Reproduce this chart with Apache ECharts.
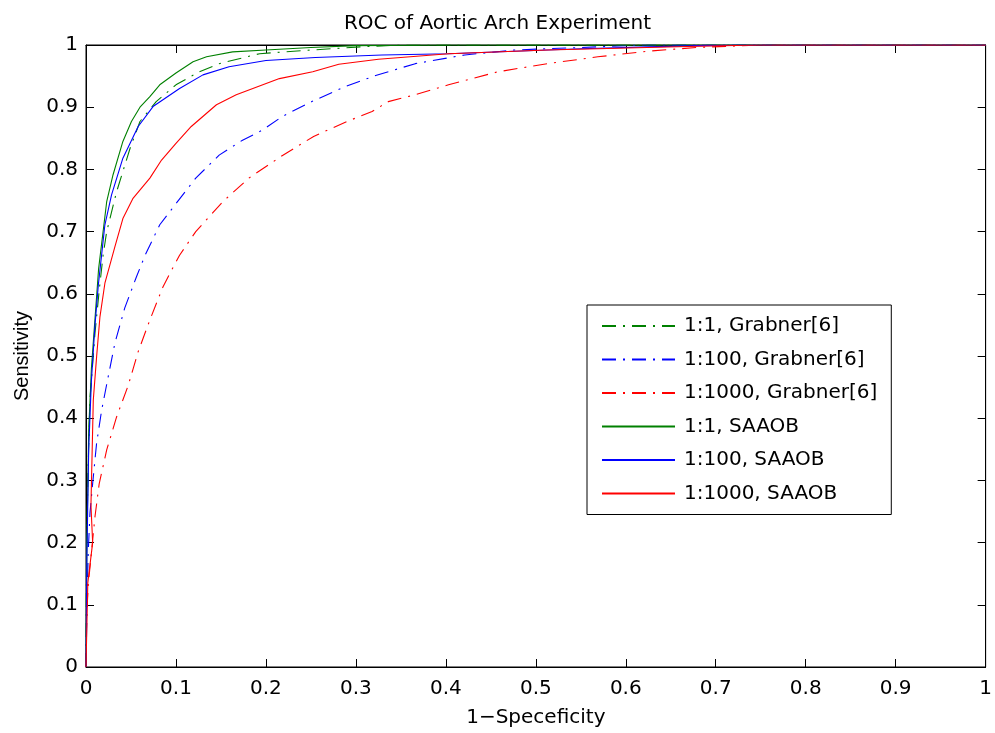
<!DOCTYPE html>
<html>
<head>
<meta charset="utf-8">
<script src="https://cdn.jsdelivr.net/npm/echarts@6/dist/echarts.min.js"></script>
<style>html,body{margin:0;padding:0;background:#fff}#c{width:995px;height:733px}</style>
</head>
<body>
<div id="c"></div>
<script>
var titleText = 'ROC of Aortic Arch Experiment';
var xAxisName = '1\u2212Speceficity';
var yAxisName = 'Sensitivity';
var seriesNames = ['1:1, Grabner[6]', '1:100, Grabner[6]', '1:1000, Grabner[6]', '1:1, SAAOB', '1:100, SAAOB', '1:1000, SAAOB'];

var grabner1 = [[0,0],[0.0005,0.15],[0.002,0.3],[0.0044,0.43],[0.010,0.537],[0.015,0.61],[0.019,0.662],[0.023,0.70],[0.034,0.764],[0.049,0.834],[0.060,0.877],[0.078,0.909],[0.1,0.936],[0.126,0.957],[0.148,0.970],[0.193,0.986],[0.251,0.992],[0.306,0.997],[0.35,1],[1,1]];
var grabner100 = [[0,0],[0.0015,0.132],[0.0026,0.188],[0.0044,0.247],[0.0074,0.295],[0.0118,0.36],[0.0174,0.413],[0.0247,0.467],[0.032,0.52],[0.043,0.577],[0.056,0.627],[0.066,0.663],[0.082,0.711],[0.1,0.745],[0.122,0.786],[0.148,0.823],[0.174,0.847],[0.196,0.863],[0.218,0.885],[0.251,0.909],[0.288,0.933],[0.322,0.951],[0.366,0.970],[0.421,0.984],[0.476,0.992],[0.55,0.996],[0.62,1],[1,1]];
var grabner1000 = [[0,0],[0.0007,0.08],[0.0026,0.134],[0.0063,0.188],[0.010,0.242],[0.0147,0.295],[0.023,0.349],[0.034,0.402],[0.047,0.453],[0.058,0.507],[0.071,0.558],[0.0855,0.611],[0.094,0.635],[0.104,0.662],[0.122,0.70],[0.152,0.748],[0.181,0.786],[0.218,0.822],[0.253,0.853],[0.29,0.877],[0.318,0.893],[0.336,0.909],[0.366,0.920],[0.403,0.936],[0.458,0.957],[0.513,0.970],[0.569,0.981],[0.624,0.990],[0.679,0.996],[0.75,1],[1,1]];
var saaob1 = [[0,0],[0.001,0.2],[0.003,0.38],[0.006,0.48],[0.010,0.56],[0.014,0.64],[0.019,0.70],[0.023,0.748],[0.030,0.791],[0.041,0.845],[0.0505,0.877],[0.06,0.9],[0.071,0.917],[0.082,0.936],[0.1,0.955],[0.119,0.973],[0.134,0.981],[0.163,0.989],[0.2,0.992],[0.25,0.996],[0.3,0.999],[0.4,1],[1,1]];
var saaob100 = [[0,0],[0.001,0.18],[0.003,0.35],[0.006,0.46],[0.010,0.55],[0.0137,0.614],[0.021,0.711],[0.0284,0.759],[0.041,0.818],[0.058,0.869],[0.0745,0.901],[0.104,0.930],[0.130,0.952],[0.159,0.965],[0.2,0.975],[0.255,0.980],[0.329,0.984],[0.403,0.986],[0.476,0.990],[0.55,0.994],[0.624,0.997],[0.68,0.999],[0.75,1],[1,1]];
var saaob1000 = [[0,0],[0.002,0.135],[0.0074,0.2],[0.0055,0.26],[0.0081,0.429],[0.0118,0.499],[0.0155,0.563],[0.021,0.617],[0.032,0.675],[0.041,0.721],[0.052,0.753],[0.071,0.786],[0.084,0.815],[0.100,0.842],[0.117,0.869],[0.145,0.904],[0.167,0.920],[0.215,0.946],[0.252,0.957],[0.281,0.969],[0.325,0.977],[0.403,0.986],[0.513,0.992],[0.624,0.996],[0.68,0.998],[0.75,1],[1,1]];

var seriesData = [grabner1, grabner100, grabner1000, saaob1, saaob100, saaob1000];
var colors = ['#008000', '#0000ff', '#ff0000', '#008000', '#0000ff', '#ff0000'];
var dashDot = [14, 7, 2, 7];
var lineTypes = [dashDot, dashDot, dashDot, 'solid', 'solid', 'solid'];

var font = '"DejaVu Sans", Verdana, sans-serif';
var fontNarrow = '"Liberation Sans", Arial, Helvetica, sans-serif';
function fmt(v){ if (Math.abs(v) < 1e-9) return '0'; if (Math.abs(v-1) < 1e-9) return '1'; return v.toFixed(1); }

var chart = echarts.init(document.getElementById('c'), null, {renderer: 'canvas'});
var axisCommon = {
  type: 'value', min: 0, max: 1, interval: 0.1,
  axisLine: {show: true, onZero: false, lineStyle: {color: '#000', width: 1}},
  axisTick: {show: true, inside: true, length: 8, lineStyle: {color: '#000', width: 1}},
  splitLine: {show: false}
};
var option = {
  animation: false,
  backgroundColor: '#fff',
  textStyle: {fontFamily: font},
  title: {text: titleText, left: 'center', top: 9, textStyle: {fontFamily: font, fontSize: 20, fontWeight: 'normal', color: '#000'}},
  grid: {left: 86, right: 5, top: 45, bottom: 66, show: true, borderColor: '#000', borderWidth: 1},
  legend: {
    orient: 'vertical', left: 587, top: 305,
    padding: [11, 14, 11, 14],
    itemWidth: 73, itemHeight: 20, itemGap: 13.5,
    backgroundColor: '#fff', borderColor: '#000', borderWidth: 1,
    itemStyle: {opacity: 0},
    textStyle: {fontFamily: font, fontSize: 20, lineHeight: 20, color: '#000', padding: [0, 0, 0, 4]},
    data: seriesNames
  },
  xAxis: [
    Object.assign({}, axisCommon, {position: 'bottom', name: xAxisName, nameLocation: 'middle', nameGap: 41,
      nameTextStyle: {fontFamily: font, fontSize: 20, color: '#000'},
      axisLabel: {formatter: fmt, fontFamily: font, fontSize: 20, color: '#000', margin: 12}}),
    Object.assign({}, axisCommon, {position: 'top', axisLabel: {show: false}})
  ],
  yAxis: [
    Object.assign({}, axisCommon, {position: 'left', name: yAxisName, nameLocation: 'middle', nameGap: 54,
      nameTextStyle: {fontFamily: fontNarrow, fontSize: 20, color: '#000'},
      axisLabel: {formatter: fmt, fontFamily: font, fontSize: 20, color: '#000', margin: 8}}),
    Object.assign({}, axisCommon, {position: 'right', axisLabel: {show: false}})
  ],
  series: seriesNames.map(function(n, i){
    return {
      name: n, type: 'line', data: seriesData[i], showSymbol: false, symbol: 'none',
      xAxisIndex: 0, yAxisIndex: 0, smooth: false,
      color: colors[i],
      lineStyle: {color: colors[i], width: 1.1, type: lineTypes[i]},
      itemStyle: {color: colors[i]},
      z: 2 + (i >= 3 ? 1 : 0)
    };
  })
};
chart.setOption(option);
</script>
</body>
</html>
